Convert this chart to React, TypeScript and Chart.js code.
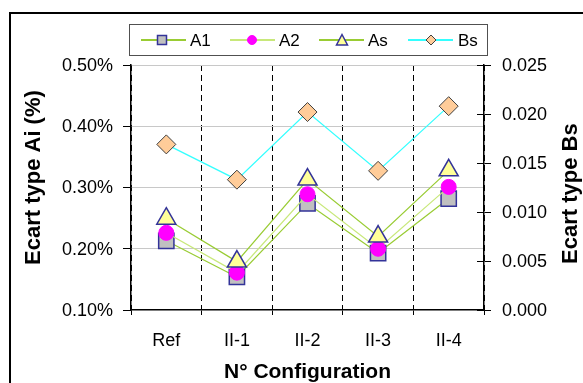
import React, { useEffect, useRef } from 'react';
import { Chart, registerables } from 'chart.js';

Chart.register(...registerables);

const categories = ['Ref', 'II-1', 'II-2', 'II-3', 'II-4'];
const a1Values = [0.213, 0.154, 0.274, 0.193, 0.282];
const a2Values = [0.226, 0.161, 0.289, 0.200, 0.301];
const asValues = [0.249, 0.179, 0.313, 0.220, 0.328];
const bsValues = [0.0169, 0.0133, 0.0202, 0.0142, 0.0208];
const leftTickLabels = ['0.10%', '0.20%', '0.30%', '0.40%', '0.50%'];
const rightTickLabels = ['0.000', '0.005', '0.010', '0.015', '0.020', '0.025'];
const seriesNames = ['A1', 'A2', 'As', 'Bs'];
const xTitle = 'N° Configuration';
const leftTitle = 'Ecart type Ai (%)';
const rightTitle = 'Ecart type Bs';

const FONT = "'Liberation Sans', Arial, Helvetica, sans-serif";

type Style = {
  line: string;
  point: string;
  fill: string;
  stroke: string;
  lw: number;
  r: number;
  lr: number;
};

const styles: Style[] = [
  { line: '#99cc33', point: 'rect', fill: '#c0c0c0', stroke: '#333399', lw: 1.5, r: 10.8, lr: 4.5 },
  { line: '#c8e87a', point: 'circle', fill: '#ff00ff', stroke: '#ff00ff', lw: 1, r: 7.5, lr: 4.5 },
  { line: '#99cc33', point: 'triangle', fill: '#ffff99', stroke: '#333399', lw: 1.5, r: 11, lr: 5.5 },
  { line: '#33ffff', point: 'rectRot', fill: '#ffcc99', stroke: '#404040', lw: 1, r: 9.5, lr: 5 },
];

function drawMarker(ctx: CanvasRenderingContext2D, s: Style, x: number, y: number, r: number) {
  ctx.beginPath();
  if (s.point === 'rect') {
    ctx.rect(x - r, y - r, 2 * r, 2 * r);
  } else if (s.point === 'circle') {
    ctx.arc(x, y, r, 0, Math.PI * 2);
  } else if (s.point === 'triangle') {
    ctx.moveTo(x, y - r);
    ctx.lineTo(x + r, y + r * 0.9);
    ctx.lineTo(x - r, y + r * 0.9);
    ctx.closePath();
  } else {
    ctx.moveTo(x, y - r);
    ctx.lineTo(x + r, y);
    ctx.lineTo(x, y + r);
    ctx.lineTo(x - r, y);
    ctx.closePath();
  }
  ctx.fillStyle = s.fill;
  ctx.fill();
  ctx.lineWidth = s.lw;
  ctx.strokeStyle = s.stroke;
  ctx.stroke();
}

const legendLayout = [
  { lineStart: 141, lineEnd: 186, marker: 162, label: 190 },
  { lineStart: 230, lineEnd: 275, marker: 252, label: 279 },
  { lineStart: 319, lineEnd: 364, marker: 342, label: 368 },
  { lineStart: 408, lineEnd: 453, marker: 431, label: 458 },
];

const decorPlugin = {
  id: 'decor',
  beforeDraw(chart: any) {
    const ctx = chart.ctx as CanvasRenderingContext2D;
    ctx.save();
    ctx.fillStyle = '#ffffff';
    ctx.fillRect(0, 0, chart.width, chart.height);
    ctx.strokeStyle = '#000';
    ctx.lineWidth = 2;
    ctx.strokeRect(10, 13, chart.width + 40, chart.height + 40);
    ctx.restore();
  },
  afterDraw(chart: any) {
    const ctx = chart.ctx as CanvasRenderingContext2D;
    const ca = chart.chartArea;
    const y1 = chart.scales.y1;
    ctx.save();
    ctx.strokeStyle = '#000';
    ctx.lineWidth = 1;
    y1.ticks.forEach((_t: any, i: number) => {
      const py = Math.round(y1.getPixelForTick(i)) + 0.5;
      ctx.beginPath();
      ctx.moveTo(ca.right - 7, py);
      ctx.lineTo(ca.right, py);
      ctx.stroke();
    });

    ctx.fillStyle = '#000';
    ctx.font = `bold 22px ${FONT}`;
    ctx.textAlign = 'left';
    ctx.textBaseline = 'middle';
    ctx.save();
    ctx.translate(34, 265);
    ctx.rotate(-Math.PI / 2);
    ctx.fillText(leftTitle, 0, 0);
    ctx.restore();
    ctx.save();
    ctx.translate(571, 264);
    ctx.rotate(-Math.PI / 2);
    ctx.fillText(rightTitle, 0, 0);
    ctx.restore();

    ctx.fillStyle = '#ffffff';
    ctx.fillRect(129.5, 24.5, 358, 31);
    ctx.strokeStyle = '#505050';
    ctx.lineWidth = 1;
    ctx.strokeRect(129.5, 24.5, 358, 31);
    const ly = 40;
    chart.data.datasets.forEach((ds: any, i: number) => {
      const L = legendLayout[i];
      const s = styles[i];
      ctx.strokeStyle = s.line;
      ctx.lineWidth = 2;
      ctx.beginPath();
      ctx.moveTo(L.lineStart, ly);
      ctx.lineTo(L.lineEnd, ly);
      ctx.stroke();
      drawMarker(ctx, s, L.marker, ly, s.lr);
      ctx.fillStyle = '#000';
      ctx.font = `17px ${FONT}`;
      ctx.textAlign = 'left';
      ctx.textBaseline = 'middle';
      ctx.fillText(ds.label, L.label, ly + 1);
    });
    ctx.restore();
  },
};

export default function App() {
  const canvasRef = useRef<HTMLCanvasElement | null>(null);

  useEffect(() => {
    document.body.style.margin = '0';
    const canvas = canvasRef.current;
    if (!canvas) return;
    const seriesData = [a1Values, a2Values, asValues, bsValues];
    const orders = [2, 1, 0, 3];
    const datasets = seriesData.map((vals, i) => {
      const s = styles[i];
      return {
        label: seriesNames[i],
        data: vals,
        yAxisID: i === 3 ? 'y1' : 'y',
        order: orders[i],
        borderColor: s.line,
        borderWidth: 1.2,
        backgroundColor: s.fill,
        pointStyle: s.point,
        pointRadius: s.r,
        pointHoverRadius: s.r,
        pointBackgroundColor: s.fill,
        pointBorderColor: s.stroke,
        pointBorderWidth: s.lw,
        tension: 0,
        fill: false,
        clip: false as any,
      };
    });

    const chart = new Chart(canvas, {
      type: 'line',
      data: { labels: categories, datasets: datasets as any },
      options: {
        animation: false,
        responsive: false,
        devicePixelRatio: 1,
        layout: { padding: { top: 65, left: 0, right: 0, bottom: 0 } },
        plugins: {
          legend: { display: false },
          tooltip: { enabled: false },
        },
        scales: {
          x: {
            type: 'category',
            offset: true,
            grid: {
              offset: true,
              display: true,
              drawOnChartArea: true,
              color: '#000',
              lineWidth: 1,
              borderDash: [6, 4],
              tickLength: 5,
              tickColor: '#000',
              tickWidth: 1,
              tickBorderDash: [],
            } as any,
            border: { display: true, color: '#000', width: 1.5, dash: [6, 4] },
            ticks: {
              color: '#000',
              font: { family: FONT, size: 18 },
              padding: 15,
              maxRotation: 0,
              autoSkip: false,
            },
            title: {
              display: true,
              text: xTitle,
              color: '#000',
              font: { family: FONT, size: 21, weight: 'bold', lineHeight: 1 },
              padding: { top: 0, bottom: 0 },
            },
            afterFit: (s: any) => {
              s.height = 73;
            },
          },
          y: {
            type: 'linear',
            position: 'left',
            min: 0.1,
            max: 0.5,
            grid: {
              color: (c: any) => (c.tick && c.tick.value < 0.15 ? 'rgba(0,0,0,0)' : '#c8c8c8'),
              lineWidth: 1,
              tickLength: 8,
              tickColor: '#000',
              tickWidth: 1,
            },
            border: { display: true, color: '#000', width: 1.5 },
            ticks: {
              stepSize: 0.1,
              color: '#000',
              padding: 10,
              labelOffset: 1,
              font: { family: FONT, size: 18 },
              callback: (_v: any, i: number) => leftTickLabels[i],
            },
            afterFit: (s: any) => {
              s.width = 131;
            },
          },
          y1: {
            type: 'linear',
            position: 'right',
            min: 0,
            max: 0.025,
            grid: {
              drawOnChartArea: false,
              tickLength: 7,
              tickColor: '#000',
              tickWidth: 1,
            },
            border: { display: true, color: '#000', width: 1.5 },
            ticks: {
              stepSize: 0.005,
              color: '#000',
              padding: 11,
              labelOffset: 1,
              font: { family: FONT, size: 18 },
              callback: (_v: any, i: number) => rightTickLabels[i],
            },
            afterFit: (s: any) => {
              s.width = 99;
            },
          },
        },
      } as any,
      plugins: [decorPlugin],
    });
    return () => chart.destroy();
  }, []);

  return (
    <div style={{ width: 583, height: 383, position: 'relative' }}>
      <canvas ref={canvasRef} width={583} height={383} style={{ display: 'block' }} />
    </div>
  );
}
